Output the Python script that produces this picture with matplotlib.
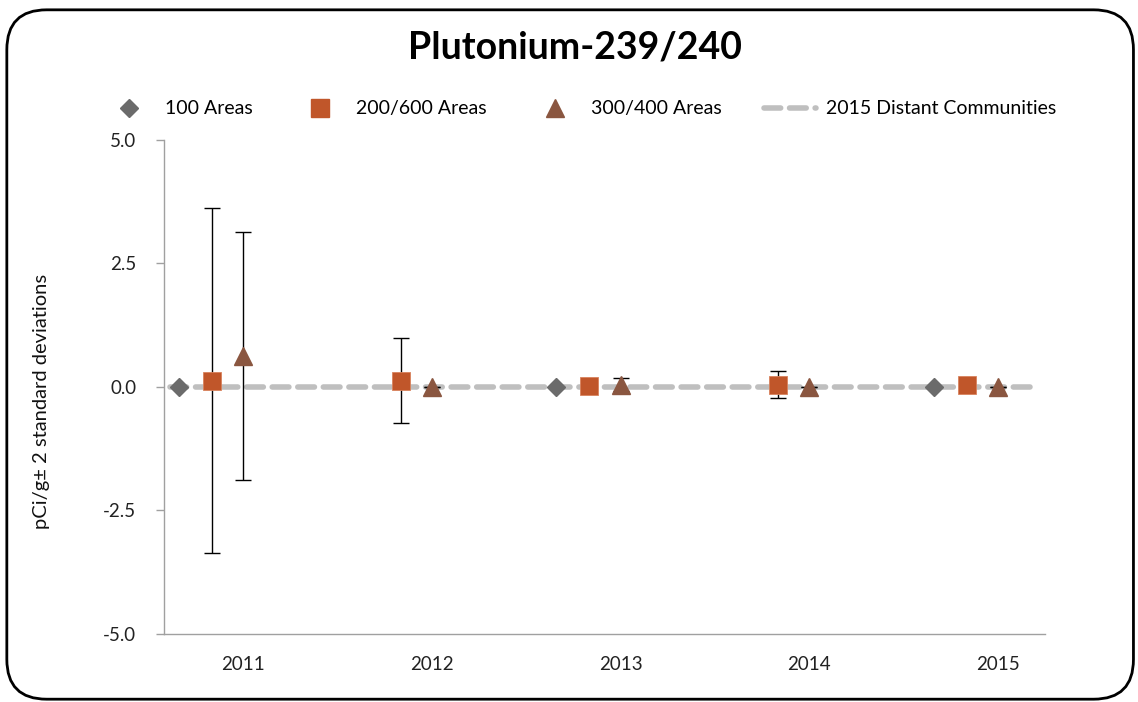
import matplotlib
matplotlib.use("Agg")
import matplotlib.pyplot as plt
from matplotlib.patches import FancyBboxPatch
from matplotlib.lines import Line2D

years = [2011, 2012, 2013, 2014, 2015]
# 100 Areas (None = no sample)
a100_val = [0.0, None, 0.0, None, 0.0]
# 200/600 Areas
a200_val = [0.13, 0.13, 0.01, 0.05, 0.04]
a200_err = [3.49, 0.86, 0.0, 0.27, 0.0]
# 300/400 Areas
a300_val = [0.63, 0.0, 0.05, 0.0, 0.0]
a300_err = [2.51, 0.0, 0.13, 0.0, 0.0]
distant_2015 = 0.0

offsets = {"100": -0.34, "200": -0.165, "300": 0.0}

plt.rcParams['font.family'] = ['Lato', 'DejaVu Sans']

fig = plt.figure(figsize=(11.38, 7.02), dpi=100)
ax = fig.add_axes([0.1441, 0.0969, 0.9183 - 0.1441, 0.8006 - 0.0969])

xmin, xmax = 2010.58, 2015.25
ax.set_xlim(xmin, xmax)
ax.set_ylim(-5, 5)

ax.plot([xmin + 0.03, xmax - 0.05], [distant_2015, distant_2015], color='#bfbfbf',
        lw=4, dashes=(3, 1.6), solid_capstyle='round', dash_capstyle='round', zorder=1)

x100 = [y + offsets["100"] for y, v in zip(years, a100_val) if v is not None]
v100 = [v for v in a100_val if v is not None]
ax.plot(x100, v100, linestyle='none', marker='D', markersize=9, color='#6b6b6b', zorder=3)

x200 = [y + offsets["200"] for y in years]
ax.errorbar(x200, a200_val, yerr=a200_err, fmt='none', ecolor='black', elinewidth=1,
            capsize=6, capthick=1, zorder=2)
ax.plot(x200, a200_val, linestyle='none', marker='s', markersize=12.5, color='#c0562a',
        markeredgecolor='#d9825c', markeredgewidth=0.6, zorder=3)

x300 = [y + offsets["300"] for y in years]
ax.errorbar(x300, a300_val, yerr=a300_err, fmt='none', ecolor='black', elinewidth=1,
            capsize=6, capthick=1, zorder=2)
ax.plot(x300, a300_val, linestyle='none', marker='^', markersize=13, color='#8a5640', zorder=3)

ax.set_yticks([-5, -2.5, 0, 2.5, 5])
ax.set_yticklabels(['-5.0', '-2.5', '0.0', '2.5', '5.0'], fontsize=13.5, color='#222222')
ax.set_xticks(years)
ax.set_xticklabels([str(y) for y in years], fontsize=13.5, color='#222222')
ax.tick_params(axis='x', length=0, pad=16)
ax.tick_params(axis='y', length=6, width=1, color='#a0a0a0', pad=14)
for s in ['top', 'right']:
    ax.spines[s].set_visible(False)
for s in ['left', 'bottom']:
    ax.spines[s].set_color('#a0a0a0')
    ax.spines[s].set_linewidth(1)
ax.spines['bottom'].set_bounds(xmin, xmax)

ax.set_ylabel('pCi/g± 2 standard deviations', fontsize=14.5, color='#111111')
ax.yaxis.set_label_coords(-0.129, 0.47)

fig.text(0.505, 0.932, 'Plutonium-239/240', ha='center', va='center', fontsize=27,
         fontweight='bold', color='black')

handles = [
    Line2D([], [], linestyle='none', marker='D', markersize=9, color='#6b6b6b'),
    Line2D([], [], linestyle='none', marker='s', markersize=12.5, color='#c0562a'),
    Line2D([], [], linestyle='none', marker='^', markersize=13, color='#8a5640'),
    Line2D([], [], color='#bfbfbf', lw=4, dashes=(3, 1.6), dash_capstyle='round'),
]
labels = ['100 Areas', '200/600 Areas', '300/400 Areas', '2015 Distant Communities']
fig.legend(handles, labels, loc='center', bbox_to_anchor=(0.509, 0.845), ncol=4,
           frameon=False, fontsize=14, handlelength=2.7, columnspacing=2.15,
           handletextpad=0.5)

border = FancyBboxPatch((0.006, 0.004), 0.99, 0.982, boxstyle='round,pad=0,rounding_size=0.035',
                        transform=fig.transFigure, fill=False, edgecolor='black', lw=2,
                        mutation_aspect=1138/702)
fig.patches.append(border)

fig.savefig('out.png', dpi=100, facecolor='white')
